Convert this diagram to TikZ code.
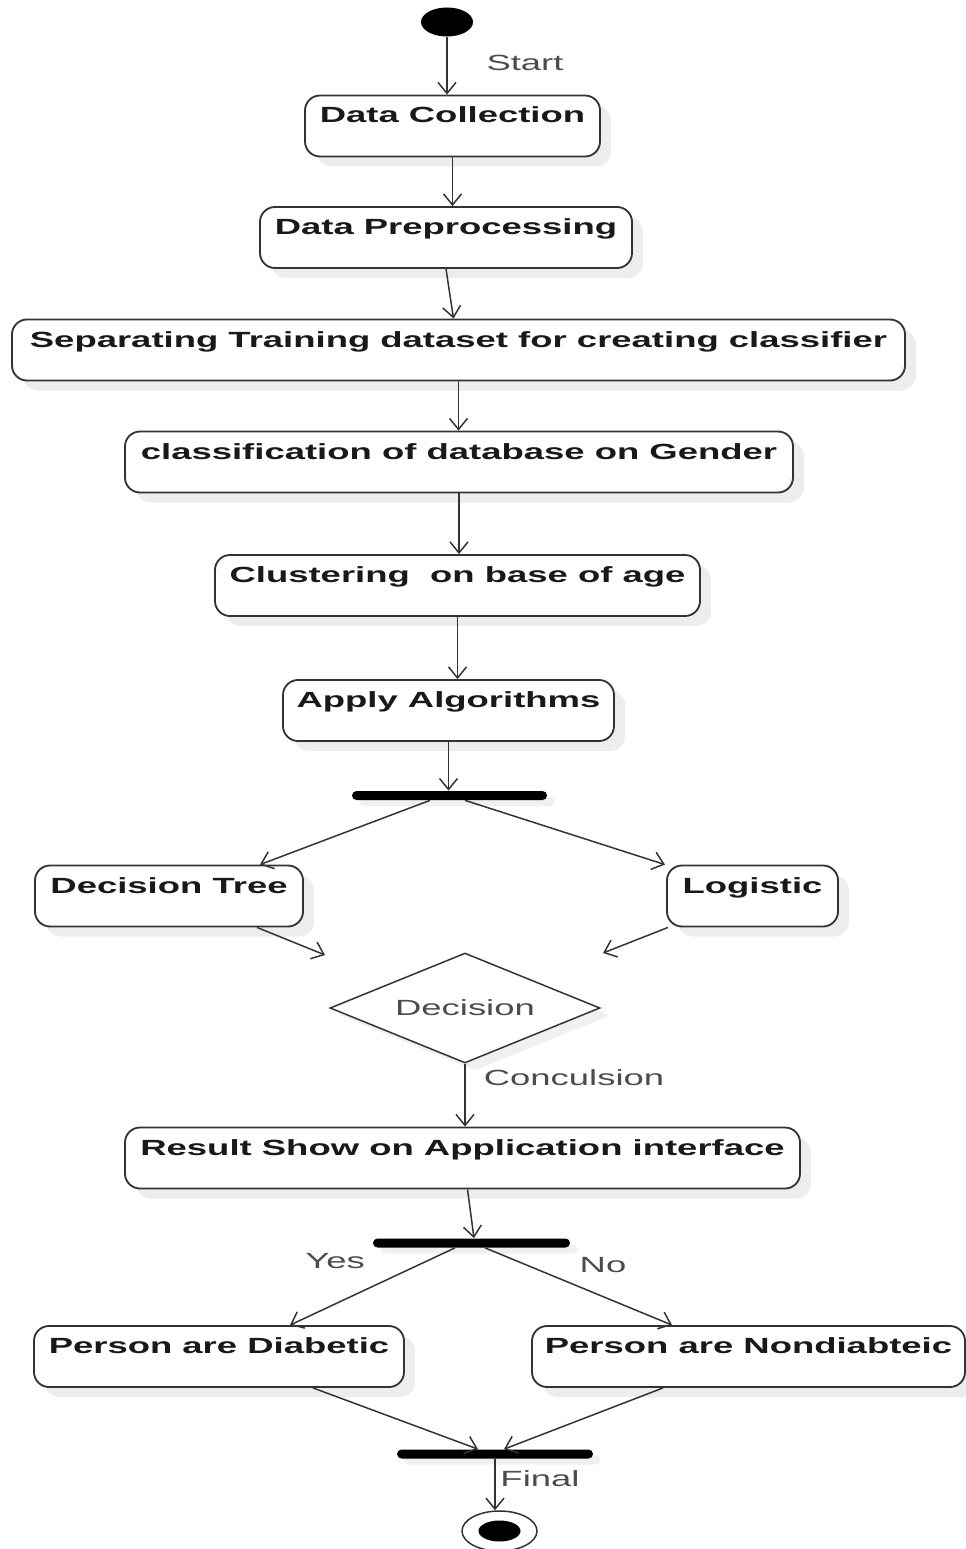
\documentclass[tikz,border=0pt]{standalone}
\usepackage{fontspec}
\setmainfont[FakeStretch=1.66]{Liberation Sans}
\usepackage{tikz}
\usetikzlibrary{shapes.geometric,arrows.meta,shadows}

\begin{document}
\begin{tikzpicture}[
  act/.style={rectangle,rounded corners=0.3cm,draw=black!80,line width=1.05pt,fill=white,
    drop shadow={shadow xshift=0.22cm,shadow yshift=-0.2cm,fill=black!7,opacity=1},
    minimum height=1.22cm,inner sep=0pt,text height=0.55cm,text depth=0.67cm,
    font=\fontsize{12.5}{15}\selectfont\bfseries,text=black!90},
  bar/.style={rectangle,rounded corners=0.09cm,fill=black,minimum height=0.18cm,inner sep=0pt,
    drop shadow={shadow xshift=0.15cm,shadow yshift=-0.12cm,fill=black!6,opacity=1}},
  choice/.style={diamond,aspect=2.45,draw=black!80,line width=0.85pt,fill=white,
    minimum width=5.4cm,minimum height=2.2cm,inner sep=0pt,
    drop shadow={shadow xshift=0.2cm,shadow yshift=-0.15cm,fill=black!6,opacity=1},
    font=\fontsize{12.5}{15}\selectfont,text=black!70},
  lbl/.style={font=\fontsize{12.5}{15}\selectfont,text=black!70},
  flow/.style={draw=black!80,line width=0.85pt,-{Straight Barb[length=0.22cm,width=0.36cm]}}
]

\useasboundingbox (0,0) rectangle (19.32,-30.98);

% start and end points
\node[ellipse,fill=black,minimum width=1.04cm,minimum height=0.58cm,inner sep=0pt] (start) at (8.94,-0.44) {};
\node[ellipse,draw=black!80,line width=0.85pt,fill=white,minimum width=1.5cm,minimum height=0.8cm,inner sep=0pt] (stop) at (9.99,-30.62) {};
\node[ellipse,fill=black,minimum width=0.84cm,minimum height=0.42cm,inner sep=0pt] (stopdot) at (stop) {};

% activities
\node[act,minimum width=5.9cm] (collect) at (9.05,-2.52) {Data Collection};
\node[act,minimum width=7.44cm] (prep) at (8.92,-4.75) {Data Preprocessing};
\node[act,minimum width=17.86cm] (split) at (9.17,-7.0) {Separating Training dataset for creating classifier};
\node[act,minimum width=13.36cm] (gender) at (9.18,-9.24) {classification of database on Gender};
\node[act,minimum width=9.7cm] (cluster) at (9.15,-11.71) {Clustering\ \ on base of age};
\node[act,minimum width=6.62cm] (algo) at (8.97,-14.21) {Apply Algorithms};
\node[bar,minimum width=3.9cm] (fork1) at (8.99,-15.91) {};
\node[act,minimum width=5.36cm] (tree) at (3.38,-17.92) {Decision Tree};
\node[act,minimum width=3.42cm] (logit) at (15.05,-17.92) {Logistic};
\node[choice] (decide) at (9.3,-20.16) {Decision};
\node[act,minimum width=13.5cm] (result) at (9.25,-23.16) {Result Show on Application interface};
\node[bar,minimum width=3.94cm] (fork2) at (9.43,-24.86) {};
\node[act,minimum width=7.4cm] (diab) at (4.38,-27.13) {Person are Diabetic};
\node[act,minimum width=8.66cm] (nondiab) at (14.97,-27.13) {Person are Nondiabteic};
\node[bar,minimum width=3.92cm] (join) at (9.9,-29.08) {};

% loose ends near the decision
\coordinate (treeend) at (6.5,-19.1);
\coordinate (logitend) at (12.06,-19.06);

% flows
\draw[flow] (start) -- (start |- collect.north);
\draw[flow] (collect.south) -- (collect.south |- prep.north);
\draw[flow] (prep.south) -- ([xshift=0.15cm]prep.south |- split.north);
\draw[flow] (split.south) -- (split.south |- gender.north);
\draw[flow] (gender.south) -- (gender.south |- cluster.north);
\draw[flow] (cluster.south) -- (cluster.south |- algo.north);
\draw[flow] (algo.south) -- (algo.south |- fork1.north);
\draw[flow] ([xshift=-0.39cm]fork1.south) -- ([xshift=1.82cm]tree.north);
\draw[flow] ([xshift=0.31cm]fork1.south) -- ([xshift=-1.75cm]logit.north);
\draw[flow] ([xshift=1.76cm]tree.south) -- (treeend);
\draw[flow] ([xshift=-1.69cm]logit.south) -- (logitend);
\draw[flow] (decide.south) -- (decide.south |- result.north);
\draw[flow] ([xshift=0.1cm]result.south) -- ([xshift=0.05cm]fork2.north);
\draw[flow] ([xshift=-0.33cm]fork2.south) -- ([xshift=1.42cm]diab.north);
\draw[flow] ([xshift=0.27cm]fork2.south) -- ([xshift=-1.53cm]nondiab.north);
\draw[flow] ([xshift=1.88cm]diab.south) -- ([xshift=-0.34cm]join.north);
\draw[flow] ([xshift=-1.71cm]nondiab.south) -- ([xshift=0.18cm]join.north);
\draw[flow] (join.south) -- (join.south |- stop.north);

% labels
\node[lbl] (startlbl) at (10.5,-1.26) {Start};
\node[lbl] (concllbl) at (11.48,-21.56) {Conculsion};
\node[lbl] (yeslbl) at (6.7,-25.22) {Yes};
\node[lbl] (nolbl) at (12.06,-25.3) {No};
\node[lbl] (finallbl) at (10.8,-29.58) {Final};

\end{tikzpicture}
\end{document}
